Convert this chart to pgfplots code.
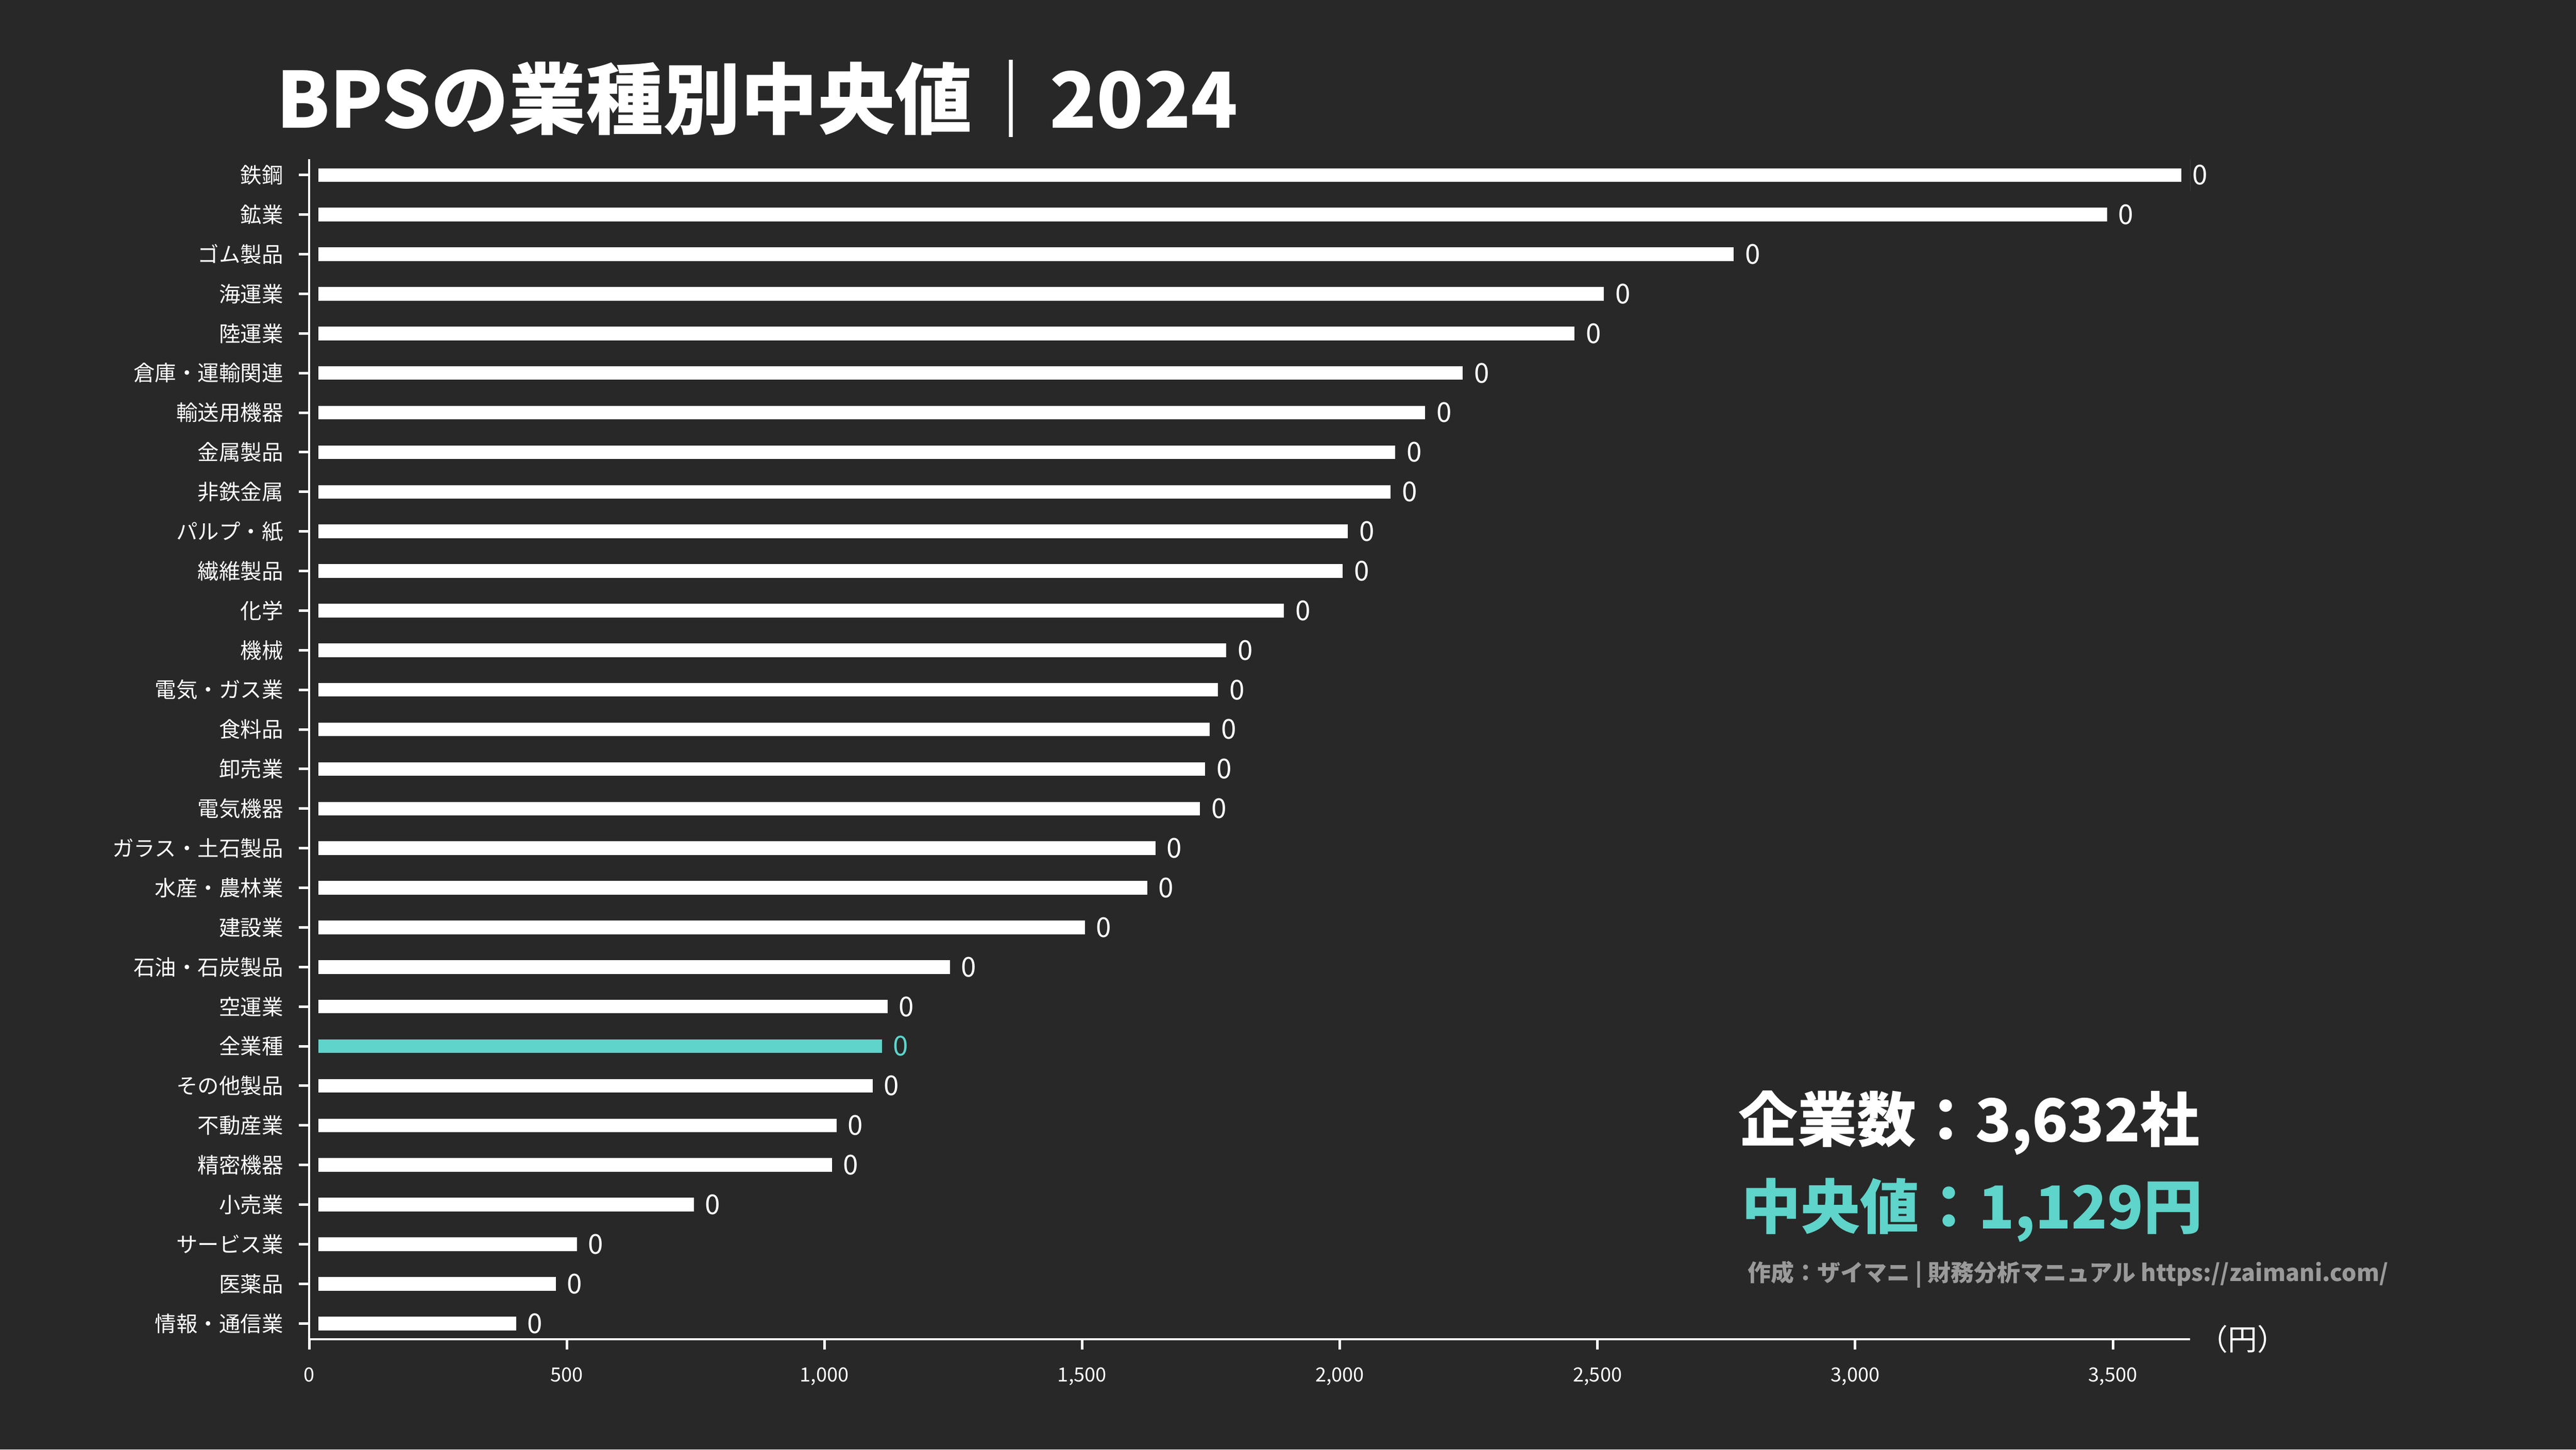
\documentclass[border=0pt]{standalone}
\usepackage{fontspec}
\setmainfont{Noto Sans CJK JP}
\usepackage{pgfplots}
\pgfplotsset{compat=1.18}
\definecolor{bg}{HTML}{282828}
\definecolor{accent}{HTML}{5ED4CA}
\definecolor{credit}{HTML}{9A9A9A}

\begin{document}
\begin{tikzpicture}[x=1pt,y=1pt]
\fill[bg] (0,0) rectangle (500,281.4);
\node[anchor=base west, text=white, font=\fontsize{15}{16}\selectfont\bfseries, inner sep=0pt]
  at (53.4,256.5) {BPSの業種別中央値｜2024};
\begin{axis}[
  at={(60pt,21.4pt)}, anchor=south west,
  scale only axis, width=365.1pt, height=229.1pt,
  xmin=0, xmax=3650, ymin=-0.4, ymax=29.4,
  xbar, bar width=0.8, bar shift=0pt,
  axis lines*=left, axis on top,
  axis line style={white, line width=0.45pt},
  tick style={white, line width=0.5pt},
  tick align=outside, major tick length=2pt,
  xtick={0,500,...,3500},
  ytick={0,...,29},
  yticklabels={情報・通信業,医薬品,サービス業,小売業,精密機器,不動産業,その他製品,全業種,空運業,石油・石炭製品,建設業,水産・農林業,ガラス・土石製品,電気機器,卸売業,食料品,電気・ガス業,機械,化学,繊維製品,パルプ・紙,非鉄金属,金属製品,輸送用機器,倉庫・運輸関連,陸運業,海運業,ゴム製品,鉱業,鉄鋼},
  xticklabel style={text=white, font=\fontsize{3.8}{4}\selectfont},
  yticklabel style={text=white, font=\fontsize{4.15}{4.5}\selectfont, xshift=0.5pt},
  /pgf/number format/.cd, 1000 sep={,}, assume math mode=true, /pgfplots/.cd,
  nodes near coords={0},
  every node near coord/.append style={anchor=west, font=\fontsize{5.3}{6}\selectfont, inner sep=0.6pt, xshift=-1.9pt},
]
\addplot[fill=white, draw=bg, line width=3.5pt,
  every node near coord/.append style={text=white}] coordinates {
  (419,0) (496,1) (537,2) (764,3) (1032,4) (1041,5) (1111,6)
  (1140,8) (1261,9) (1523,10) (1644,11) (1660,12) (1746,13) (1756,14)
  (1765,15) (1781,16) (1797,17) (1909,18) (2023,19) (2033,20) (2116,21)
  (2125,22) (2183,23) (2256,24) (2473,25) (2530,26) (2782,27) (3506,28) (3650,29)
};
\addplot[fill=accent, draw=bg, line width=3.5pt,
  every node near coord/.append style={text=accent}] coordinates {(1129,7)};
\end{axis}
\node[text=white, font=\fontsize{5.7}{6}\selectfont, inner sep=0pt] at (435.3,21.4) {（円）};
\node[anchor=base west, text=white, font=\fontsize{11.5}{13}\selectfont\bfseries, inner sep=0pt]
  at (337.2,59.8) {企業数：3,632社};
\node[anchor=base west, text=accent, font=\fontsize{11.5}{13}\selectfont\bfseries, inner sep=0pt]
  at (337.8,42.9) {中央値：1,129円};
\node[anchor=base west, text=credit, font=\fontsize{4.5}{5}\selectfont\bfseries, inner sep=0pt]
  at (339,32.7) {作成：ザイマニ | 財務分析マニュアル https://zaimani.com/};
\end{tikzpicture}
\end{document}
